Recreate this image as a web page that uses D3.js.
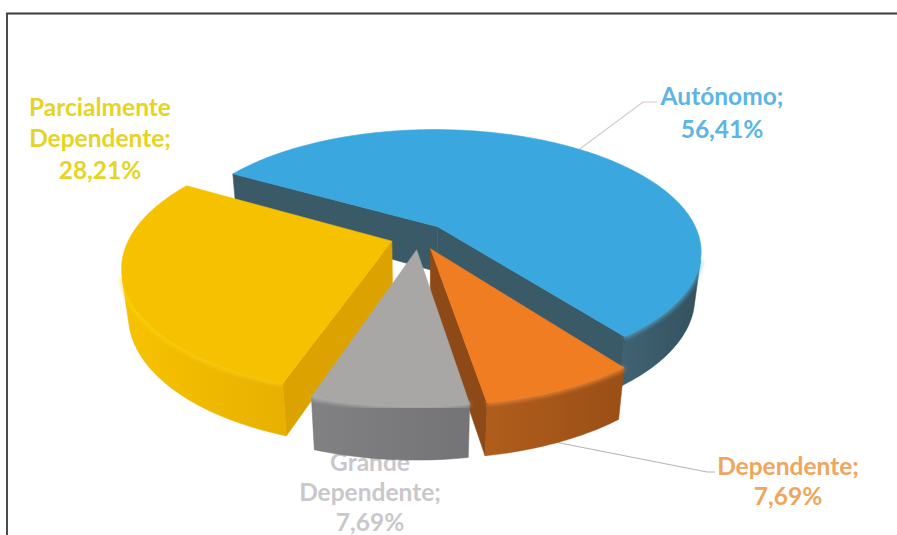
<!DOCTYPE html>
<html>
<head>
<meta charset="utf-8">
<script src="https://cdn.jsdelivr.net/npm/d3@7"></script>
<style>
  html, body { margin: 0; padding: 0; background: #ffffff; }
  svg { display: block; }
  text { font-family: Lato, "Open Sans", sans-serif; font-weight: 700; }
</style>
</head>
<body>
<svg id="chart" width="897" height="535"></svg>
<script>
// Data
const categories = ["Autónomo", "Dependente", "Grande Dependente", "Parcialmente Dependente"];
const values = [56.41, 7.69, 7.69, 28.21];
const labelLines = [["Autónomo;"], ["Dependente;"], ["Grande", "Dependente;"], ["Parcialmente", "Dependente;"]];

// Styling per slice
const topColors   = ["#3aa7de", "#f07d22", "#a9a7a5", "#f6c200"];
const rimColors   = ["#5cc0ee", "#ff9a45", "#d0cecc", "#ffd820"];
const wallColors  = [["#3f6272", "#34515f"], ["#b05d1c", "#9a4f16"], ["#818184", "#747477"], ["#f7c300", "#e8b000"]];
const cutColors   = ["#3b5a68", "#8e4a16", "#8d8d90", "#dca300"];
const labelColors = ["#5cb5e6", "#f0a55c", "#c8c8cb", "#e6d424"];

// 3D view parameters
const cx = 419, cy = 282;       // pie centre on screen
const S = 256;                  // pixels per pie radius
const phi = 29.5 * Math.PI / 180; // elevation of the view
const D = 4.5;                  // camera distance (in radii)
const H = 0.2;                  // pie thickness
const explode = 0.11;
const startAngle = 300 * Math.PI / 180;

const svg = d3.select("#chart");
const defs = svg.append("defs");
defs.append("filter").attr("id", "soft").append("feGaussianBlur").attr("stdDeviation", 2.2);

// Frame
svg.append("path").attr("d", "M7,535 V13.5 H897").attr("fill", "none")
  .attr("stroke", "#3a3a3a").attr("stroke-width", 1.8);

const cam = [0, D * Math.cos(phi), D * Math.sin(phi)];
function proj(X, Y, Z) {
  const v = -Y * Math.sin(phi) + Z * Math.cos(phi);
  const w = Y * Math.cos(phi) + Z * Math.sin(phi);
  const s = D / (D - w);
  return [cx + S * X * s, cy - S * v * s];
}
function visible(P, n) {
  return (cam[0] - P[0]) * n[0] + (cam[1] - P[1]) * n[1] + (cam[2] - P[2]) * n[2] > 0;
}

const pie = d3.pie().sort(null).startAngle(startAngle).endAngle(startAngle + 2 * Math.PI);
const arcs = pie(values).map((a, i) => {
  const m = (a.startAngle + a.endAngle) / 2;
  return { ...a, i, m, ox: explode * Math.sin(m), oy: -explode * Math.cos(m) };
});

function pt(a, th, r, Z) { return proj(a.ox + r * Math.sin(th), a.oy - r * Math.cos(th), Z); }
function arcPts(a, t0, t1, Z) {
  const n = Math.max(4, Math.ceil(Math.abs(t1 - t0) / 0.02));
  return d3.range(n + 1).map(k => pt(a, t0 + (t1 - t0) * k / n, 1, Z));
}
const line = d3.line();

// Data labels (drawn first so the pie sits over them)
const pct = d3.format(".2f");
const labelPos = [[722, 105], [788, 475], [370, 471], [100, 115.5]];
const labelStep = [32.5, 29.5, 30, 31.5];
arcs.forEach(a => {
  const lines = labelLines[a.i].concat([pct(a.value).replace(".", ",") + "%"]);
  const t = svg.append("text").attr("text-anchor", "middle").attr("fill", labelColors[a.i])
    .attr("font-size", 24.5);
  lines.forEach((s, k) => {
    t.append("tspan").attr("x", labelPos[a.i][0]).attr("y", labelPos[a.i][1] + k * labelStep[a.i]).text(s);
  });
});
const leaders = [
  { i: 0, th: 40, z: H, to: [[643, 102], [657, 102]], color: "#d9c9c9" },
  { i: 1, th: 157, z: 0, to: [[707, 472], [715, 472]], color: "#b4b4bc" }
];
leaders.forEach(l => {
  const p0 = pt(arcs[l.i], l.th * Math.PI / 180, 1, l.z);
  svg.append("path").attr("d", line([p0].concat(l.to))).attr("fill", "none")
    .attr("stroke", l.color).attr("stroke-width", 1.2);
});

// Painter's order: back slices first
const order = arcs.slice().sort((p, q) => (p.oy - 0.5 * Math.cos(p.m)) - (q.oy - 0.5 * Math.cos(q.m)));

const g = svg.append("g");
order.forEach(a => {
  const gs = g.append("g");
  // radial cut walls
  [[a.startAngle, -1], [a.endAngle, 1]].forEach(([th, sgn]) => {
    const n = [Math.sin(th + sgn * Math.PI / 2), -Math.cos(th + sgn * Math.PI / 2), 0];
    if (!visible([a.ox, a.oy, H / 2], n)) return;
    const poly = [pt(a, th, 0, H), pt(a, th, 1, H), pt(a, th, 1, 0), pt(a, th, 0, 0)];
    gs.append("path").attr("d", line(poly) + "Z").attr("fill", cutColors[a.i])
      .attr("stroke", cutColors[a.i]).attr("stroke-width", 0.6);
  });
  // outer curved wall, visible part only
  const N = Math.ceil((a.endAngle - a.startAngle) / 0.01);
  const vis = d3.range(N + 1).map(k => a.startAngle + (a.endAngle - a.startAngle) * k / N)
    .filter(th => visible([a.ox + Math.sin(th), a.oy - Math.cos(th), H / 2], [Math.sin(th), -Math.cos(th), 0]));
  if (vis.length > 1) {
    const t0 = vis[0], t1 = vis[vis.length - 1];
    const top = arcPts(a, t0, t1, H), bot = arcPts(a, t1, t0, 0);
    const xs = top.map(p => p[0]);
    const gid = "wall" + a.i;
    const lg = defs.append("linearGradient").attr("id", gid).attr("gradientUnits", "userSpaceOnUse")
      .attr("x1", d3.min(xs)).attr("x2", d3.max(xs)).attr("y1", 0).attr("y2", 0);
    lg.append("stop").attr("offset", 0).attr("stop-color", wallColors[a.i][0]);
    lg.append("stop").attr("offset", 1).attr("stop-color", wallColors[a.i][1]);
    gs.append("path").attr("d", line(top.concat(bot)) + "Z").attr("fill", `url(#${gid})`)
      .attr("stroke", wallColors[a.i][1]).attr("stroke-width", 0.5);
    // soft highlight along the upper rim of the wall
    gs.append("path").attr("d", line(top)).attr("fill", "none").attr("stroke", rimColors[a.i])
      .attr("stroke-width", 4).attr("opacity", 0.75).attr("filter", "url(#soft)");
  }
  // top face
  const face = [pt(a, 0, 0, H)].concat(arcPts(a, a.startAngle, a.endAngle, H));
  gs.append("path").attr("d", line(face) + "Z").attr("fill", topColors[a.i])
    .attr("stroke", topColors[a.i]).attr("stroke-width", 0.6);
});
</script>
</body>
</html>
